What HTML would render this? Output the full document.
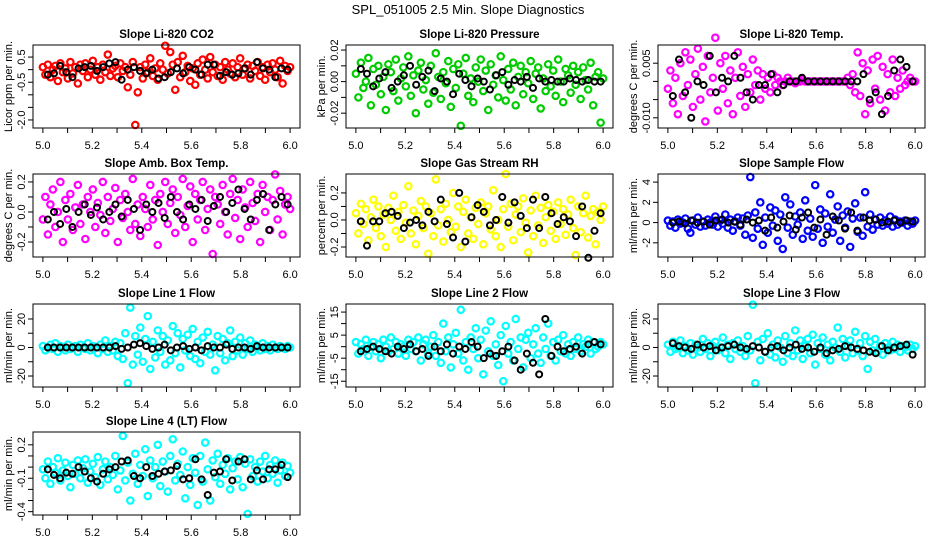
<!DOCTYPE html>
<html><head><meta charset="utf-8"><style>
body{margin:0;background:#fff;}
svg{display:block;font-family:"Liberation Sans",sans-serif;}
</style></head><body>
<svg id="chart" width="936" height="540" viewBox="0 0 936 540">
<text x="468" y="14" text-anchor="middle" font-size="13">SPL_051005  2.5 Min. Slope Diagnostics</text>
</svg>
<script>
const xTicks = [5.0,5.1,5.2,5.3,5.4,5.5,5.6,5.7,5.8,5.9,6.0];
const xTickLabels = ["5.0","","5.2","","5.4","","5.6","","5.8","","6.0"];
const panelTitles = ["Slope Li-820 CO2","Slope Li-820 Pressure","Slope Li-820 Temp.","Slope Amb. Box Temp.","Slope Gas Stream RH","Slope Sample Flow","Slope Line 1 Flow","Slope Line 2 Flow","Slope Line 3 Flow","Slope Line 4 (LT) Flow"];
const yTitles = ["Licor ppm per min.","kPa per min.","degrees C per min.","degrees C per min.","percent per min.","ml/min per min.","ml/min per min.","ml/min per min.","ml/min per min.","ml/min per min."];
const seriesColors = ["#ff0000","#00cd00","#ff00ff","#ff00ff","#ffff00","#0000ff","#00ffff","#00ffff","#00ffff","#00ffff"];
const yRanges = [[-2.32,0.98],[-0.0294,0.0232],[-0.0128,0.010],[-0.30,0.253],[-0.274,0.34],[-3.4,4.8],[-27.7,30.5],[-17.5,18.5],[-27.7,30.5],[-0.43,0.315]];
const yTicks = [[0.5,0,-0.5,-1,-1.5,-2],[0.02,0.01,0,-0.01,-0.02],[0.005,0,-0.005,-0.01],[0.2,0.1,0,-0.1,-0.2],[0.2,0.1,0,-0.1,-0.2],[4,2,0,-2],[20,10,0,-10,-20],[15,10,5,0,-5,-10,-15],[20,10,0,-10,-20],[0.2,0.1,0,-0.1,-0.2,-0.3,-0.4]];
const yTickLabels = [["0.5","","-0.5","","","-2.0"],["0.02","","0.00","","-0.02"],["0.005","","","-0.010"],["0.2","","0.0","","-0.2"],["0.2","","0.0","","-0.2"],["4","2","0","-2"],["20","","0","","-20"],["15","","5","","-5","","-15"],["20","","0","","-20"],["0.2","","","-0.1","","","-0.4"]];

const co2 = [0.1,-0.2,0.2,-0.3,0.0,0.15,-0.45,0.25,-0.1,0.05,-0.35,0.3,-0.15,0.1,-0.55,0.2,-0.05,0.25,-0.3,0.0,0.35,-0.2,0.1,-0.4,0.2,-0.1,0.6,-0.25,0.05,0.15,-0.3,0.25,-0.05,0.1,-0.7,-0.2,0.3,-2.2,-0.9,0.1,-0.35,0.2,-0.1,0.45,-0.25,0.05,-0.4,0.25,0.0,0.95,-0.15,0.7,0.2,-0.8,0.3,-0.3,0.55,-0.1,0.15,-0.45,0.05,-0.6,0.25,-0.2,0.4,0.0,-0.35,0.5,-0.1,0.2,-0.25,0.1,-0.4,0.3,0.0,-0.15,0.25,-0.3,0.1,0.45,-0.2,0.05,0.2,-0.35,0.15,-0.05,0.3,-0.25,0.1,-0.4,0.2,-0.1,0.25,0.0,-0.3,0.35,-0.55,0.15,-0.05,0.1];
const co2Black = [-0.2,-0.15,0.15,-0.1,-0.3,0.05,0.1,0.15,-0.05,0.1,0.25,0.3,-0.4,0.0,0.1,-0.05,-0.15,0.0,-0.35,-0.3,-0.1,0.05,-0.15,0.1,0.0,-0.2,0.2,0.2,-0.25,-0.1,-0.2,-0.15,0.05,-0.2,0.3,0.05,0.0,-0.3,0.05,0.0];
const pressure = [0.005,-0.01,0.012,-0.004,0.0,0.015,-0.015,0.008,-0.002,0.01,-0.008,0.003,-0.018,0.011,0.006,-0.006,0.014,-0.012,0.002,0.009,-0.003,0.016,-0.009,0.004,-0.02,0.007,0.012,-0.005,0.001,-0.014,0.01,-0.007,0.018,0.003,-0.011,0.006,-0.001,0.013,-0.016,0.008,-0.004,0.011,-0.028,0.005,0.015,-0.009,0.002,-0.013,0.009,0.0,0.014,-0.006,0.007,-0.018,0.011,-0.002,0.004,-0.01,0.016,0.001,-0.012,0.008,-0.005,0.012,-0.015,0.003,0.01,-0.008,0.006,-0.001,0.013,-0.011,0.005,0.009,-0.017,0.002,-0.006,0.011,-0.003,0.007,-0.009,0.014,0.0,-0.013,0.008,0.004,-0.007,0.01,-0.002,0.006,-0.011,0.009,0.001,-0.005,0.012,-0.015,0.003,0.006,-0.026,0.002];
const pressureBlack = [0.008,0.005,-0.003,0.002,0.006,-0.004,0.0,0.004,0.01,-0.002,0.003,0.007,-0.006,0.002,0.0,-0.008,0.005,0.001,-0.003,0.002,0.0,-0.005,0.004,0.006,-0.002,0.001,0.0,0.003,-0.004,0.002,0.0,0.001,0.0,0.0,0.002,0.001,0.0,0.001,0.0,0.0];
const licorTemp = [-0.002,0.003,-0.006,0.001,-0.009,0.005,-0.004,0.008,-0.001,0.006,-0.007,0.002,0.009,-0.005,0.004,-0.011,0.007,-0.003,0.001,0.012,-0.008,0.005,-0.002,0.007,-0.006,0.003,-0.009,0.001,0.008,-0.004,0.004,-0.007,0.002,-0.003,0.006,-0.001,0.003,-0.005,0.002,-0.002,0.001,-0.003,0.002,-0.001,0.001,0.0,-0.001,0.0,0.001,0.0,0.0,-0.0005,0.0,0.0,0.0005,0.0,0.0,0.0,0.0,0.0,0.0,0.0,0.0,0.0,0.0,0.0,0.0,0.0,0.0,0.0,0.0,0.0,0.001,-0.001,0.002,-0.003,0.008,-0.004,0.005,-0.009,0.003,-0.006,0.006,-0.002,0.007,-0.005,0.004,-0.008,0.002,-0.003,0.006,-0.004,0.001,-0.002,0.003,-0.001,0.0,0.001,0.0,0.0];
const licorTempBlack = [-0.004,0.006,-0.003,-0.01,0.0,-0.001,0.007,-0.003,0.001,0.0,0.007,0.001,-0.003,-0.005,-0.001,-0.001,0.002,-0.003,-0.001,0.0,0.0,0.001,0.0,0.0,0.0,0.0,0.0,0.0,0.0,0.0,0.0,0.002,-0.005,-0.003,-0.009,-0.004,0.003,0.006,0.004,0.0];
const ambTemp = [-0.05,0.1,-0.15,0.05,0.15,-0.1,0.0,0.2,-0.2,0.08,-0.05,0.12,-0.12,0.03,0.18,-0.08,0.05,-0.18,0.1,0.0,0.15,-0.1,0.06,-0.02,0.2,-0.14,0.1,-0.06,0.02,0.16,-0.2,0.08,-0.04,0.12,0.0,-0.12,0.22,-0.08,0.05,-0.16,0.1,0.02,-0.1,0.18,-0.05,0.08,-0.22,0.12,0.0,0.2,-0.08,0.06,0.15,-0.14,0.1,-0.02,0.22,-0.1,0.04,0.17,-0.2,0.12,-0.05,0.08,0.2,-0.12,0.02,0.15,-0.28,0.1,0.05,-0.08,0.18,0.0,-0.15,0.12,0.22,-0.04,0.08,-0.18,0.15,0.03,-0.1,0.2,0.06,-0.06,0.12,-0.2,0.18,0.0,0.1,-0.12,0.08,0.25,-0.05,0.14,-0.15,0.05,0.1,0.02];
const ambTempBlack = [-0.05,0.0,-0.08,0.02,-0.1,0.0,0.05,-0.02,0.03,-0.05,0.0,0.05,-0.03,0.08,0.02,-0.12,0.05,0.0,0.06,-0.04,0.1,0.0,-0.05,0.05,0.02,0.08,-0.06,0.04,0.1,0.0,0.06,0.15,0.02,-0.05,0.08,0.12,-0.12,0.05,0.1,0.05];
const gasRH = [0.05,-0.1,0.12,-0.03,0.08,-0.15,0.02,0.15,-0.06,0.1,-0.12,0.04,-0.2,0.09,0.0,0.18,-0.08,0.06,-0.14,0.11,-0.02,0.25,-0.1,0.07,-0.18,0.03,0.14,-0.06,0.1,-0.25,0.05,-0.12,0.3,-0.04,0.08,-0.16,0.12,0.0,-0.09,0.2,-0.05,0.1,-0.2,0.06,0.15,-0.1,0.02,-0.14,0.09,-0.03,0.13,-0.18,0.05,0.1,-0.07,0.22,-0.12,0.0,-0.2,0.08,0.34,-0.05,0.12,-0.15,0.04,0.1,-0.09,0.16,-0.02,-0.24,0.07,-0.12,0.18,-0.04,0.09,-0.17,0.02,0.11,-0.08,0.06,-0.14,0.13,-0.03,0.08,-0.11,0.04,0.15,-0.06,-0.26,0.1,-0.09,0.05,0.18,-0.13,0.03,0.08,-0.18,0.06,0.0,0.1];
const gasRHBlack = [-0.01,-0.19,-0.01,-0.01,0.05,0.06,0.03,-0.06,-0.02,0.0,-0.04,0.06,-0.01,0.15,-0.03,-0.13,0.2,-0.16,0.02,0.11,0.06,-0.04,0.0,0.17,-0.02,0.13,0.03,-0.06,0.15,-0.06,0.17,0.05,-0.03,0.02,-0.01,-0.12,0.1,-0.28,-0.08,0.05];
const sampleFlow = [0.2,-0.3,0.1,-0.5,0.3,-0.1,0.0,0.4,-0.6,-1.0,0.2,-0.2,0.5,-0.4,0.1,-0.3,0.3,0.0,-0.2,0.6,-0.4,0.2,-0.1,0.8,-0.5,0.3,-0.8,0.1,0.5,-0.3,0.4,-1.2,0.7,4.5,-1.5,1.0,-0.6,2.0,-2.2,0.5,-1.0,1.5,-0.3,1.2,-1.8,0.8,-2.6,2.5,-0.5,1.8,-1.2,0.6,-0.2,1.0,-1.6,2.2,-0.8,0.4,-1.4,3.7,-0.6,1.3,-2.0,0.9,-0.4,2.8,-1.0,0.3,1.6,-1.8,0.7,-0.5,1.1,-2.4,0.4,1.9,-0.9,0.5,-1.3,3.0,-0.4,0.8,-0.7,0.3,-0.2,0.5,-0.3,0.2,-0.1,0.6,-0.4,0.3,-0.2,0.1,0.0,0.2,-0.3,0.1,-0.1,0.2];
const sampleFlowBlack = [0.0,0.1,-0.1,0.2,0.0,0.1,-0.2,0.2,0.3,0.0,0.1,-0.2,0.3,0.0,0.2,-0.8,0.5,-0.5,0.1,0.7,-0.7,0.5,1.0,-0.5,0.3,-1.2,0.6,0.2,-0.6,1.0,-0.8,0.5,0.2,0.3,0.0,0.1,0.2,0.0,0.2,0.1];
const line1Flow = [1,-2,0,2,-1,3,-3,1,0,-2,2,-1,0,1,-3,2,0,-1,3,-2,1,0,-4,2,-1,5,-3,1,-2,4,-6,3,-8,10,-25,28,-12,8,-5,14,-10,6,22,-15,4,-7,12,-3,8,-12,5,-9,15,-4,10,-14,6,-2,9,-6,13,-8,4,-11,7,-3,11,-5,2,-16,8,-4,6,-9,3,12,-6,4,-2,7,-5,3,-1,5,-3,2,0,-2,3,-1,1,-2,2,0,-1,1,0,-1,1,0];
const line1FlowBlack = [0,0,0,0,0,0,0,0,0,0,0,1,-1,0,2,3,1,-1,0,2,-2,0,1,-1,0,-2,1,0,0,2,-1,0,0,-1,1,0,0,0,0,0];
const line2Flow = [2,-3,1,-1,3,-4,0,2,-2,1,-5,3,0,-2,4,-1,2,-3,1,0,-4,3,-1,2,-2,4,-6,1,3,-3,0,5,-4,2,-7,10,-2,4,-9,1,6,-3,16,-6,2,-10,4,-1,8,-5,3,-12,7,-2,11,-4,1,-8,5,-15,9,-3,2,-6,12,-1,4,-9,3,6,-5,1,8,-3,-7,4,-1,10,-4,2,-6,3,-2,5,-3,1,-4,2,-1,4,-2,1,0,3,-3,2,-1,0,2,1];
const line2FlowBlack = [-2,-1,0,-1,-2,-3,0,-1,1,-2,-1,-4,0,-2,1,-3,0,-1,2,0,-5,-3,-4,-2,0,-6,-10,-3,-7,-12,12,-4,0,-2,-1,0,-3,1,2,1];
const line3Flow = [2,-3,4,-1,0,5,-4,1,-2,3,-5,2,0,-3,6,-1,3,-6,1,4,-2,0,7,-4,2,-8,3,-1,5,-3,1,-6,8,-2,30,-25,4,-9,6,-3,10,-5,2,-7,5,0,-10,8,-4,3,-6,12,-2,5,-8,1,6,-4,9,-12,3,-1,7,-5,2,-9,4,0,14,-3,6,-7,1,5,-4,11,-2,3,-6,8,-15,4,-2,6,-3,1,-5,3,0,-2,4,-1,2,-3,1,0,-2,2,-1,1];
const line3FlowBlack = [3,1,0,-1,2,0,1,-2,0,1,2,0,-1,1,0,-3,0,1,-2,0,2,-1,0,-3,0,-4,-2,-1,1,0,-1,-2,-3,-4,1,-2,0,1,2,-5];
const line4Flow = [-0.02,-0.1,0.05,-0.15,0.0,-0.05,0.08,-0.12,-0.03,0.04,-0.08,-0.18,0.02,-0.06,0.06,-0.1,-0.01,0.07,-0.14,-0.04,0.03,-0.09,0.09,-0.16,-0.02,0.05,-0.11,0.0,-0.07,0.1,-0.2,-0.03,0.28,-0.12,0.04,-0.3,-0.06,0.12,-0.15,0.02,-0.08,0.16,-0.26,0.06,-0.1,0.0,0.2,-0.17,0.05,-0.04,-0.22,0.1,0.25,-0.12,0.03,-0.07,0.14,-0.28,0.0,-0.16,0.08,-0.05,-0.34,0.1,-0.13,0.22,-0.02,-0.3,0.06,-0.09,0.12,-0.15,0.02,-0.06,0.08,-0.2,-0.01,0.05,-0.11,0.09,-0.18,0.03,-0.42,0.07,-0.08,0.0,-0.13,0.05,-0.04,0.1,-0.1,0.02,-0.06,0.06,-0.14,-0.03,0.04,-0.08,0.01,-0.05];
const line4FlowBlack = [-0.02,-0.07,-0.1,-0.05,-0.06,0.0,-0.04,-0.1,-0.13,-0.06,-0.02,0.0,0.05,0.06,-0.08,-0.1,0.0,-0.08,-0.06,-0.04,-0.03,0.01,-0.11,-0.1,0.07,-0.11,-0.25,-0.05,-0.04,0.07,-0.12,0.05,0.07,-0.11,-0.03,-0.11,-0.02,-0.02,0.02,-0.09];

const colorSeries = [co2,pressure,licorTemp,ambTemp,gasRH,sampleFlow,line1Flow,line2Flow,line3Flow,line4Flow];
const blackSeries = [co2Black,pressureBlack,licorTempBlack,ambTempBlack,gasRHBlack,sampleFlowBlack,line1FlowBlack,line2FlowBlack,line3FlowBlack,line4FlowBlack];

const NS = "http://www.w3.org/2000/svg";
const svg = document.getElementById("chart");
const colLeft = [33,346,658], rowTop = [45,174,304,432], PW = 267, PH = 83;
const XMIN = 4.96, XMAX = 6.04;
function mk(tag, attrs, parent){const e=document.createElementNS(NS,tag);for(const k in attrs)e.setAttribute(k,attrs[k]);parent.appendChild(e);return e;}

for (let p = 0; p < 10; p++) {
  const L = colLeft[p % 3], T = rowTop[Math.floor(p / 3)];
  const [ymin, ymax] = yRanges[p];
  const sx = v => L + (v - XMIN) / (XMAX - XMIN) * PW;
  const sy = v => T + PH - (v - ymin) / (ymax - ymin) * PH;
  const g = mk("g", {}, svg);
  
  

  const t = mk("text", {x: L + PW / 2, y: T - 7, "text-anchor": "middle", "font-size": "11.5", "font-weight": "bold"}, g);
  t.textContent = panelTitles[p];
  
  

  const yt = mk("text", {transform: "translate(" + (L - 21) + "," + (T + PH / 2) + ") rotate(-90)", "text-anchor": "middle", "font-size": "11"}, g);
  yt.textContent = yTitles[p];
  
  

  const xa = mk("g", {}, g);
  
  
  mk("line", {x1: sx(xTicks[0]), x2: sx(xTicks[xTicks.length - 1]), y1: T + PH, y2: T + PH, stroke: "#000"}, xa);
  xTicks.forEach((v, i) => {
    mk("line", {x1: sx(v), x2: sx(v), y1: T + PH, y2: T + PH + 5, stroke: "#000"}, xa);
    if (xTickLabels[i]) {
      const tl = mk("text", {x: sx(v), y: T + PH + 21, "text-anchor": "middle", "font-size": "11"}, xa);
      tl.textContent = xTickLabels[i];
      
      
    }
  });
  const ya = mk("g", {}, g);
  
  
  const yts = yTicks[p];
  mk("line", {x1: L, x2: L, y1: sy(yts[0]), y2: sy(yts[yts.length - 1]), stroke: "#000"}, ya);
  yts.forEach((v, i) => {
    mk("line", {x1: L - 5, x2: L, y1: sy(v), y2: sy(v), stroke: "#000"}, ya);
    if (yTickLabels[p][i]) {
      const tl = mk("text", {transform: "translate(" + (L - 8) + "," + sy(v) + ") rotate(-90)", "text-anchor": "middle", "font-size": "11"}, ya);
      tl.textContent = yTickLabels[p][i];
      
      
    }
  });

  const cs = colorSeries[p];
  const cg = mk("g", {fill: "none", stroke: seriesColors[p], "stroke-width": "2.2"}, g);
  
  
  cs.forEach((v, i) => {
    const c = mk("circle", {cx: sx(5 + i / (cs.length - 1)), cy: sy(v), r: 3.2}, cg);
    
    
  });
  const bs = blackSeries[p];
  const bg = mk("g", {fill: "none", stroke: "#000", "stroke-width": "2"}, g);
  
  
  bs.forEach((v, i) => {
    const c = mk("circle", {cx: sx(5.02 + i * 0.97 / (bs.length - 1)), cy: sy(v), r: 3}, bg);
    
    
  });

  const box = mk("rect", {x: L, y: T, width: PW, height: PH, fill: "none", stroke: "#000", "stroke-width": "1"}, g);
  
  
}
</script>
</body></html>
